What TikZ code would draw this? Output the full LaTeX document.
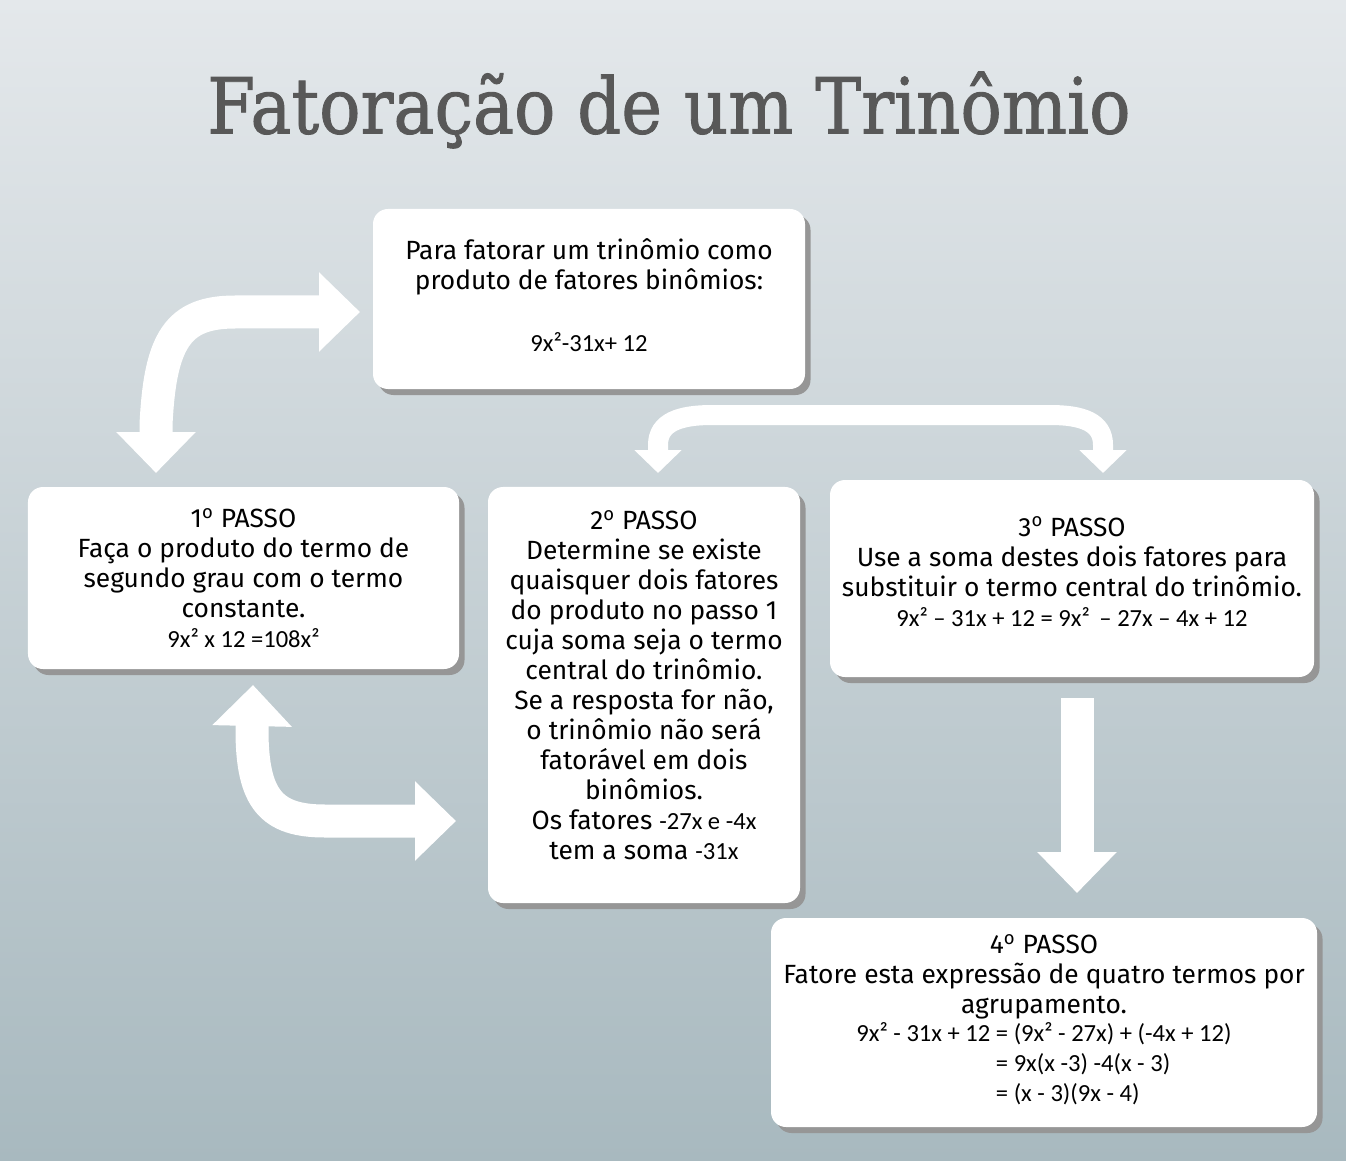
\documentclass[tikz,border=0pt]{standalone}
\usepackage{fontspec}
\setmainfont{Fira Sans}
\newfontfamily\titlefont[FakeBold=1.2]{DejaVu Serif}
\newfontfamily\exprfont[Scale=0.933]{Carlito}
\usepackage{graphicx}
\usepackage{xcolor}
\definecolor{bgtop}{RGB}{228,232,235}
\definecolor{bgbottom}{RGB}{168,185,191}
\definecolor{titlegray}{RGB}{88,88,88}
\definecolor{shadowgray}{RGB}{150,150,150}
\usepackage{tikz}
\usetikzlibrary{arrows.meta, shadows}

\tikzset{
  stepbox/.style={fill=white, rounded corners=3mm, align=center, inner sep=0pt,
    font=\fontsize{15}{17.07}\selectfont,
    drop shadow={fill=shadowgray, opacity=1, shadow xshift=1.1mm, shadow yshift=-1.2mm}},
  bigarrow/.style={draw=white, line width=6.6mm},
  thinarrow/.style={draw=white, line width=4mm},
  bighead/.tip={Triangle[length=8.2mm, width=15.4mm]},
  smallhead/.tip={Triangle[length=4.6mm, width=9.2mm]}
}
\newcommand{\ordo}{\textsuperscript{o}}

\begin{document}
\begin{tikzpicture}[x=0.2mm, y=-0.2mm]
  \useasboundingbox (0,0) rectangle (1346,1161);
  % Background
  \shade[top color=bgtop, bottom color=bgbottom] (0,0) rectangle (1346,1161);

  % Title
  \node[font=\titlefont\fontsize{44}{50}\selectfont, text=titlegray] (title) at (669,110)
       {\scalebox{0.89}[1]{Fatoração de um Trinômio}};

  % --- Boxes ---
  \node[stepbox, minimum width=86.4mm, minimum height=36mm] (start) at (589,299)
       {Para fatorar um trinômio como\\produto de fatores binômios:\\[6.4mm]{\exprfont 9x²-31x+ 12}\\[-4.4mm]};
  \node[stepbox, minimum width=86.2mm, minimum height=36.4mm] (passo1) at (243.5,578)
       {1\ordo{} PASSO\\Faça o produto do termo de\\segundo grau com o termo\\constante.\\{\exprfont 9x² x 12 =108x²}};
  \node[stepbox, minimum width=62.4mm, minimum height=83.2mm] (passo2) at (644,695)
       {2\ordo{} PASSO\\Determine se existe\\quaisquer dois fatores\\do produto no passo 1\\cuja soma seja o termo\\central do trinômio.\\Se a resposta for não,\\o trinômio não será\\fatorável em dois\\binômios.\\Os fatores {\exprfont -27x e -4x}\\tem a soma {\exprfont -31x}\\[-2mm]};
  \node[stepbox, minimum width=96.8mm, minimum height=39.4mm] (passo3) at (1072,578.5)
       {3\ordo{} PASSO\\Use a soma destes dois fatores para\\substituir o termo central do trinômio.\\{\exprfont 9x² – 31x + 12 = 9x²\, – 27x – 4x + 12}\\[-3.2mm]};
  \node[stepbox, minimum width=109.2mm, minimum height=41.8mm] (passo4) at (1044,1022.5)
       {4\ordo{} PASSO\\Fatore esta expressão de quatro termos por\\agrupamento.\\
        {\exprfont\begin{tabular}{@{}r@{ }l@{}}
          9x² - 31x + 12 & = (9x² - 27x) + (-4x + 12)\\
                         & = 9x(x -3) -4(x - 3)\\
                         & = (x - 3)(9x - 4)
        \end{tabular}}};

  % --- Arrow ends ---
  \coordinate (p1in) at (156,473);
  \coordinate (startin) at (360,312);
  \coordinate (p2top) at (658,473);
  \coordinate (p3top) at (1103,473);
  \coordinate (p3out) at (1077,698);
  \coordinate (p4in) at (1077,893);
  \coordinate (p1out) at (253,685);
  \coordinate (p2in) at (456,821);

  % --- Arrows ---
  \draw[bigarrow, bighead-bighead] (p1in) -- (156,425)
       .. controls (160,340) and (178,312) .. (235,312) -- (startin);
  \draw[thinarrow, smallhead-smallhead] (p2top) -- (658,445)
       .. controls (658,422) and (680,415) .. (712,415) -- (1050,415)
       .. controls (1082,415) and (1103,422) .. (1103,445) -- (p3top);
  \draw[bigarrow, -bighead] (p3out) -- (p4in);
  \draw[bigarrow, bighead-bighead] (p1out) -- (252,730)
       .. controls (252,800) and (272,821) .. (325,821) -- (p2in);
\end{tikzpicture}
\end{document}
